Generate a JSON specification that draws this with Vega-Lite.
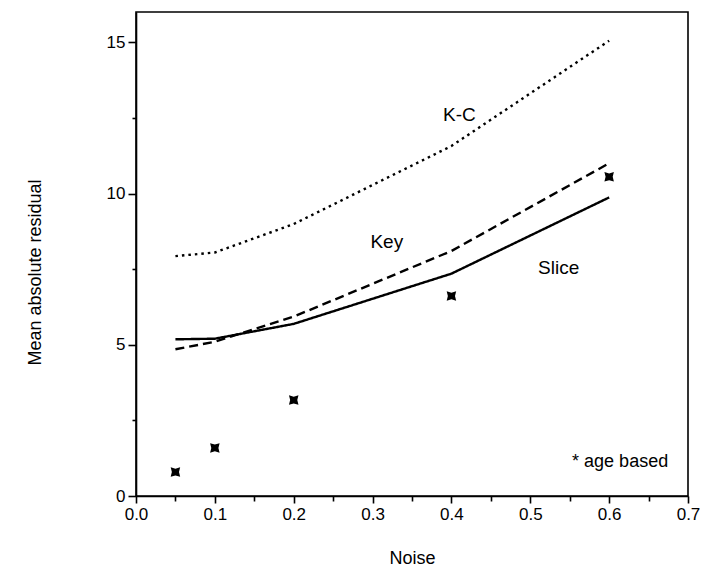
{
  "$schema": "https://vega.github.io/schema/vega-lite/v6.json",
  "width": 552,
  "height": 484,
  "autosize": "none",
  "padding": {"left": 136, "top": 12, "right": 39, "bottom": 75},
  "background": "white",
  "config": {
    "font": "Liberation Sans",
    "view": {"stroke": "black", "strokeWidth": 1.6},
    "axis": {
      "grid": false,
      "domainColor": "black",
      "domainWidth": 1.6,
      "tickColor": "black",
      "tickWidth": 1.6,
      "labelColor": "black",
      "labelFontSize": 17,
      "titleColor": "black",
      "titleFontSize": 18,
      "titleFontWeight": "normal",
      "labelOverlap": false,
      "labelFlush": false
    }
  },
  "datasets": {
    "lines": [
      {"series": "K-C", "noise": 0.05, "residual": 7.93},
      {"series": "K-C", "noise": 0.1, "residual": 8.05},
      {"series": "K-C", "noise": 0.2, "residual": 8.99},
      {"series": "K-C", "noise": 0.4, "residual": 11.57},
      {"series": "K-C", "noise": 0.6, "residual": 15.05},
      {"series": "Key", "noise": 0.05, "residual": 4.85},
      {"series": "Key", "noise": 0.1, "residual": 5.1},
      {"series": "Key", "noise": 0.2, "residual": 5.93},
      {"series": "Key", "noise": 0.4, "residual": 8.1},
      {"series": "Key", "noise": 0.6, "residual": 11.0},
      {"series": "Slice", "noise": 0.05, "residual": 5.18},
      {"series": "Slice", "noise": 0.1, "residual": 5.2},
      {"series": "Slice", "noise": 0.2, "residual": 5.69},
      {"series": "Slice", "noise": 0.4, "residual": 7.35},
      {"series": "Slice", "noise": 0.6, "residual": 9.87}
    ],
    "points": [
      {"noise": 0.05, "residual": 0.79},
      {"noise": 0.1, "residual": 1.59},
      {"noise": 0.2, "residual": 3.17},
      {"noise": 0.4, "residual": 6.61},
      {"noise": 0.6, "residual": 10.55}
    ],
    "labels": [
      {"noise": 0.41, "residual": 12.6, "label": "K-C"},
      {"noise": 0.318, "residual": 8.4, "label": "Key"},
      {"noise": 0.536, "residual": 7.54, "label": "Slice"}
    ],
    "note": [
      {"noise": 0.553, "residual": 1.12, "label": "* age based"}
    ]
  },
  "encoding": {
    "x": {
      "field": "noise",
      "type": "quantitative",
      "scale": {"domain": [0, 0.7], "nice": false, "zero": false},
      "axis": {
        "title": "Noise",
        "values": [0, 0.05, 0.1, 0.15, 0.2, 0.25, 0.3, 0.35, 0.4, 0.45, 0.5, 0.55, 0.6, 0.65, 0.7],
        "labelExpr": "round(datum.value*20) % 2 == 0 ? format(datum.value, '.1f') : ''",
        "tickSize": {"condition": {"test": "round(datum.value*20) % 2 == 0", "value": 7}, "value": 5},
        "labelPadding": 3,
        "titleY": 62,
        "titleBaseline": "middle"
      }
    },
    "y": {
      "field": "residual",
      "type": "quantitative",
      "scale": {"domain": [0, 16], "nice": false},
      "axis": {
        "title": "Mean absolute residual",
        "values": [0, 2.5, 5, 7.5, 10, 12.5, 15],
        "labelExpr": "datum.value % 5 == 0 ? format(datum.value, 'd') : ''",
        "tickSize": {"condition": {"test": "datum.value % 5 == 0", "value": 8}, "value": 4},
        "labelPadding": 3,
        "titleX": -101,
        "titleY": 260,
        "titleAngle": 270,
        "titleAlign": "center",
        "titleBaseline": "middle"
      }
    }
  },
  "layer": [
    {
      "data": {"name": "lines"},
      "mark": {"type": "line", "color": "black", "strokeWidth": 2.4},
      "encoding": {
        "strokeDash": {
          "field": "series",
          "type": "nominal",
          "scale": {"domain": ["K-C", "Key", "Slice"], "range": [[2.5, 4], [9, 5], [1, 0]]},
          "legend": null
        }
      }
    },
    {
      "data": {"name": "points"},
      "mark": {
        "type": "point",
        "shape": "M-1,-1L0,-0.7L1,-1L0.75,0L1,1L0,0.7L-1,1L-0.75,0Z",
        "filled": true,
        "color": "black",
        "opacity": 1,
        "size": 90
      }
    },
    {
      "data": {"name": "labels"},
      "mark": {"type": "text", "fontSize": 19, "align": "center", "baseline": "middle", "color": "black"},
      "encoding": {"text": {"field": "label"}}
    },
    {
      "data": {"name": "note"},
      "mark": {"type": "text", "fontSize": 18, "align": "left", "baseline": "middle", "color": "black"},
      "encoding": {"text": {"field": "label"}}
    }
  ]
}
